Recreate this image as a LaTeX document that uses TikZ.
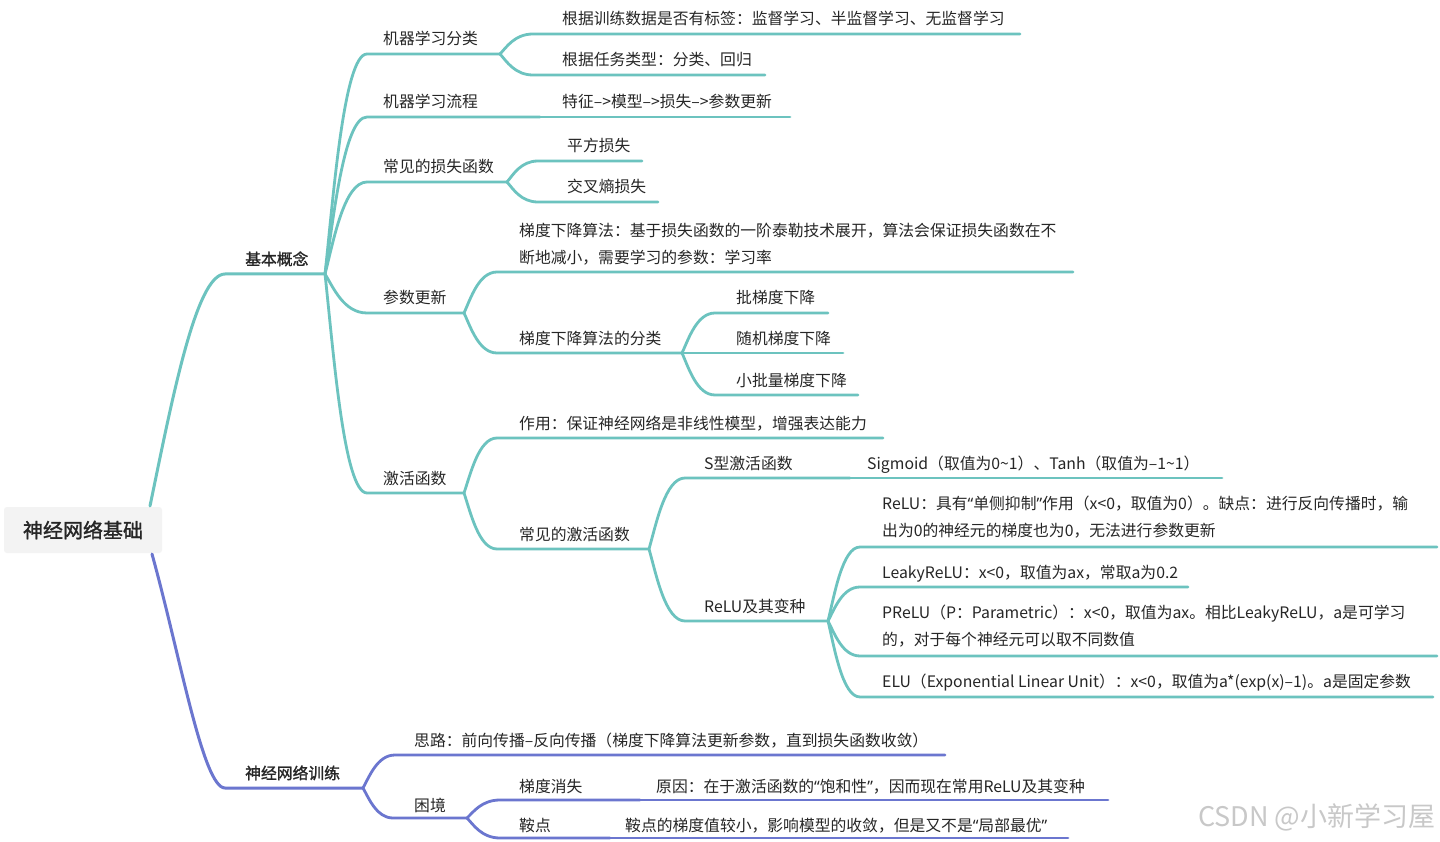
\documentclass[tikz,border=0pt]{standalone}
\usepackage{fontspec}
\setmainfont{Noto Sans CJK SC}
\newfontfamily\semib[FakeBold=1.5]{Noto Sans CJK SC}
\newfontfamily\qfont{Noto Sans}
\newcommand{\myoq}{{\qfont“}}
\newcommand{\mycq}{{\qfont”}}
\usetikzlibrary{calc}
\definecolor{tcol}{HTML}{6CC3BF}
\definecolor{pcol}{HTML}{6B76CF}
\definecolor{txt}{HTML}{262626}
\definecolor{rootbg}{HTML}{F3F3F3}
\definecolor{wmark}{HTML}{C8C8C8}
\newcommand{\mmlink}[4]{\draw[#1] let \p1=(#2), \p2=(#3) in (\p1) .. controls ({\x1+0.2*(\x2-\x1)},{\y1+0.35*(\y2-\y1)}) and ({\x1+0.45*(\x2-\x1)},{\y2}) .. (\p2) -- (#4);}
\tikzset{
  tb/.style={draw=tcol, line width=2.8pt, line cap=round, line join=round},
  pb/.style={draw=pcol, line width=2.8pt, line cap=round, line join=round},
  lbl/.style={anchor=base west, inner sep=0pt, text=txt, font=\fontsize{15.8}{27}\selectfont},
  lbltwo/.style={lbl, anchor=north west, align=left},
  blbl/.style={lbl, font=\fontsize{15.8}{20}\selectfont\semib},
  rootbox/.style={fill=rootbg, rounded corners=3pt, minimum width=158pt, minimum height=46pt, inner sep=0pt, text=txt, font=\fontsize{20}{24}\selectfont\semib},
  wm/.style={anchor=base west, inner sep=0pt, text=wmark, font=\fontsize{27}{30}\selectfont}
}
\begin{document}
\begin{tikzpicture}[x=1pt,y=-1pt]
\useasboundingbox (0,0) rectangle (1440,842);
\fill[white] (0,0) rectangle (1440,842);

% root
\node[rootbox] (root) at (83,530) {神经网络基础};
\coordinate (rt) at (150,506);
\coordinate (rb) at (152,554);

% level 1
\node[blbl] (A) at (245,265) {基本概念};
\coordinate (A-s) at (225,274); \coordinate (A-e) at (325,274);
\node[blbl] (B) at (245,779) {神经网络训练};
\coordinate (B-s) at (225,788); \coordinate (B-e) at (363,788);

\draw[tb, line width=3pt] (rt) .. controls (172,400) and (196,274) .. (A-s) -- (A-e);
\draw[pb, line width=3pt] (rb) .. controls (180,655) and (203,788) .. (B-s) -- (B-e);

% ---- 基本概念 children
\node[lbl] (A1) at (383,45) {机器学习分类};
\coordinate (A1-s) at (367,54); \coordinate (A1-e) at (500,54);
\node[lbl] (A2) at (383,108) {机器学习流程};
\coordinate (A2-s) at (367,117); \coordinate (A2-e) at (540,117);
\node[lbl] (A3) at (383,173) {常见的损失函数};
\coordinate (A3-s) at (367,182); \coordinate (A3-e) at (507,182);
\node[lbl] (A4) at (383,304) {参数更新};
\coordinate (A4-s) at (367,313); \coordinate (A4-e) at (464,313);
\node[lbl] (A5) at (383,484) {激活函数};
\coordinate (A5-s) at (367,493); \coordinate (A5-e) at (464,493);
\foreach \c in {A1,A2,A3,A4,A5}{\mmlink{tb}{A-e}{\c-s}{\c-e}}

% 机器学习分类
\node[lbl] (A1a) at (562,25) {根据训练数据是否有标签：监督学习、半监督学习、无监督学习};
\coordinate (A1a-s) at (533,34); \coordinate (A1a-e) at (1020,34);
\node[lbl] (A1b) at (562,66) {根据任务类型：分类、回归};
\coordinate (A1b-s) at (533,75); \coordinate (A1b-e) at (765,75);
\mmlink{tb}{A1-e}{A1a-s}{A1a-e}
\mmlink{tb}{A1-e}{A1b-s}{A1b-e}

% 机器学习流程
\node[lbl] (A2a) at (562,108) {特征–>模型–>损失–>参数更新};
\coordinate (A2a-e) at (790,117);
\draw[tb] (A2-e) -- (A2a-e);

% 常见的损失函数
\node[lbl] (A3a) at (567,152) {平方损失};
\coordinate (A3a-s) at (538,161); \coordinate (A3a-e) at (642,161);
\node[lbl] (A3b) at (567,193) {交叉熵损失};
\coordinate (A3b-s) at (538,202); \coordinate (A3b-e) at (658,202);
\mmlink{tb}{A3-e}{A3a-s}{A3a-e}
\mmlink{tb}{A3-e}{A3b-s}{A3b-e}

% 参数更新
\node[lbltwo] (A4a) at (519,222.5) {梯度下降算法：基于损失函数的一阶泰勒技术展开，算法会保证损失函数在不\\断地减小，需要学习的参数：学习率};
\coordinate (A4a-s) at (497,272); \coordinate (A4a-e) at (1073,272);
\node[lbl] (A4b) at (519,344) {梯度下降算法的分类};
\coordinate (A4b-s) at (497,353); \coordinate (A4b-e) at (682,353);
\mmlink{tb}{A4-e}{A4a-s}{A4a-e}
\mmlink{tb}{A4-e}{A4b-s}{A4b-e}

\node[lbl] (A4b1) at (736,304) {批梯度下降};
\coordinate (A4b1-s) at (715,313); \coordinate (A4b1-e) at (828,313);
\node[lbl] (A4b2) at (736,344) {随机梯度下降};
\coordinate (A4b2-e) at (843,353);
\node[lbl] (A4b3) at (736,386) {小批量梯度下降};
\coordinate (A4b3-s) at (715,395); \coordinate (A4b3-e) at (858,395);
\mmlink{tb}{A4b-e}{A4b1-s}{A4b1-e}
\draw[tb] (A4b-e) -- (A4b2-e);
\mmlink{tb}{A4b-e}{A4b3-s}{A4b3-e}

% 激活函数
\node[lbl] (A5a) at (519,429) {作用：保证神经网络是非线性模型，增强表达能力};
\coordinate (A5a-s) at (497,438); \coordinate (A5a-e) at (883,438);
\node[lbl] (A5b) at (519,540) {常见的激活函数};
\coordinate (A5b-s) at (497,549); \coordinate (A5b-e) at (649,549);
\mmlink{tb}{A5-e}{A5a-s}{A5a-e}
\mmlink{tb}{A5-e}{A5b-s}{A5b-e}

\node[lbl] (S) at (704,469) {S型激活函数};
\coordinate (S-s) at (685,478); \coordinate (S-e) at (850,478);
\node[lbl] (Sa) at (867,469) {Sigmoid（取值为0\textasciitilde1）、Tanh（取值为–1\textasciitilde1）};
\coordinate (Sa-e) at (1222,478);
\node[lbl] (Rv) at (704,612) {ReLU及其变种};
\coordinate (Rv-s) at (685,621); \coordinate (Rv-e) at (828,621);
\mmlink{tb}{A5b-e}{S-s}{S-e}
\draw[tb] (S-e) -- (Sa-e);
\mmlink{tb}{A5b-e}{Rv-s}{Rv-e}

\node[lbltwo] (R1) at (882,495.5) {ReLU：具有\myoq 单侧抑制\mycq 作用（x<0，取值为0）。缺点：进行反向传播时，输\\出为0的神经元的梯度也为0，无法进行参数更新};
\coordinate (R1-s) at (860,547); \coordinate (R1-e) at (1437,547);
\node[lbl] (R2) at (882,578) {LeakyReLU：x<0，取值为ax，常取a为0.2};
\coordinate (R2-s) at (860,587); \coordinate (R2-e) at (1188,587);
\node[lbltwo] (R3) at (882,604.5) {PReLU（P：Parametric）：x<0，取值为ax。相比LeakyReLU，a是可学习\\的，对于每个神经元可以取不同数值};
\coordinate (R3-s) at (860,656); \coordinate (R3-e) at (1437,656);
\node[lbl] (R4) at (882,687) {ELU（Exponential Linear Unit）：x<0，取值为a*(exp(x)–1)。a是固定参数};
\coordinate (R4-s) at (860,697); \coordinate (R4-e) at (1433,697);
\foreach \c in {R1,R2,R3,R4}{\mmlink{tb}{Rv-e}{\c-s}{\c-e}}

% ---- 神经网络训练 children
\node[lbl] (B1) at (414,746) {思路：前向传播–反向传播（梯度下降算法更新参数，直到损失函数收敛）};
\coordinate (B1-s) at (395,755); \coordinate (B1-e) at (945,755);
\node[lbl] (B2) at (414,811) {困境};
\coordinate (B2-s) at (393,818); \coordinate (B2-e) at (467,818);
\mmlink{pb}{B-e}{B1-s}{B1-e}
\mmlink{pb}{B-e}{B2-s}{B2-e}

\node[lbl] (B2a) at (519,792) {梯度消失};
\coordinate (B2a-s) at (500,800); \coordinate (B2a-e) at (640,800);
\node[lbl] (B2a1) at (656,792) {原因：在于激活函数的\myoq 饱和性\mycq ，因而现在常用ReLU及其变种};
\coordinate (B2a1-e) at (1108,800);
\node[lbl] (B2b) at (519,831) {鞍点};
\coordinate (B2b-s) at (500,838); \coordinate (B2b-e) at (610,838);
\node[lbl] (B2b1) at (625,831) {鞍点的梯度值较小，影响模型的收敛，但是又不是\myoq 局部最优\mycq};
\coordinate (B2b1-e) at (1068,838);
\mmlink{pb}{B2-e}{B2a-s}{B2a-e}
\draw[pb] (B2a-e) -- (B2a1-e);
\mmlink{pb}{B2-e}{B2b-s}{B2b-e}
\draw[pb] (B2b-e) -- (B2b1-e);

% watermark
\node[wm] (wm) at (1198,826) {CSDN @小新学习屋};
\end{tikzpicture}
\end{document}
